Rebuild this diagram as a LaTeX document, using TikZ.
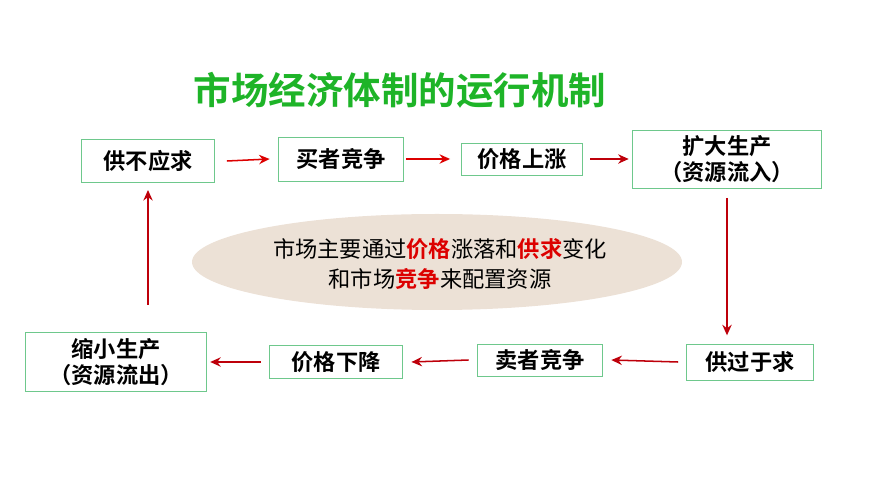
\documentclass[tikz,border=0pt]{standalone}
\usepackage{fontspec}
\setmainfont{Noto Sans CJK SC}
\newfontfamily\cjkbold{Noto Sans CJK SC Bold}
\usetikzlibrary{positioning,arrows.meta}
\definecolor{boxgreen}{RGB}{110,200,140}
\definecolor{titlegreen}{RGB}{30,180,40}
\definecolor{ovalfill}{RGB}{236,225,214}
\definecolor{arrowred}{RGB}{220,0,0}
\definecolor{arrowdark}{RGB}{190,0,10}
\tikzset{
  stagebox/.style={draw=boxgreen,line width=0.8pt,fill=white,align=center,
    font=\cjkbold\fontsize{19}{22}\selectfont,inner sep=2pt},
  flow/.style={-{Stealth[length=9pt,width=8pt]},line width=1.3pt,color=arrowdark},
}
\begin{document}
\begin{tikzpicture}[x=0.03cm,y=-0.03cm]
\useasboundingbox (0,0) rectangle (870,489);

\node[font=\cjkbold\fontsize{32}{36}\selectfont,text=titlegreen] (title) at (400,90) {市场经济体制的运行机制};

\fill[ovalfill] (437,262) ellipse [x radius=245, y radius=48];
\node[align=center,font=\fontsize{19}{26}\selectfont] (oval) at (440,264)
  {市场主要通过{\cjkbold\color{arrowred}价格}涨落和{\cjkbold\color{arrowred}供求}变化\\
   和市场{\cjkbold\color{arrowred}竞争}来配置资源};

\node[stagebox,minimum height=1.29cm] (0) at (148,161) {\makebox[110pt]{供不应求}};
\node[stagebox,minimum height=1.32cm] (1) at (341,159) {\makebox[103pt]{买者竞争}};
\node[stagebox,minimum height=0.96cm] (2) at (522,159) {\makebox[100pt]{价格上涨}};
\node[stagebox,minimum height=1.74cm] (3) at (727,159) {\makebox[157pt]{扩大生产}\\（资源流入）};
\node[stagebox,minimum height=1.08cm] (4) at (750,362) {\makebox[104pt]{供过于求}};
\node[stagebox,minimum height=0.96cm] (5) at (540,360) {\makebox[103pt]{卖者竞争}};
\node[stagebox,minimum height=0.99cm] (6) at (336,362) {\makebox[110pt]{价格下降}};
\node[stagebox,minimum height=1.77cm] (7) at (116,362) {\makebox[150pt]{缩小生产}\\（资源流出）};

\coordinate (up) at (148,305);

\draw[flow,color=arrowred] ([xshift=10pt]0.east) -- ([xshift=-7pt]1.west);
\draw[flow,color=arrowred] ([xshift=2pt]1.east) -- ([xshift=-9pt]2.west);
\draw[flow] ([xshift=6pt]2.east) -- ([xshift=-3pt]3.west);
\draw[flow] ([yshift=-8pt]3.south) -- ([yshift=7pt]3.south |- 4.north);
\draw[flow] ([xshift=-7pt]4.west) -- ([xshift=7pt]5.east);
\draw[flow] ([xshift=-7pt]5.west) -- ([xshift=7pt]6.east);
\draw[flow] ([xshift=-7pt]6.west) -- ([xshift=3pt]7.east);
\draw[flow] (up) -- ([yshift=-6pt]0.south);
\end{tikzpicture}
\end{document}
